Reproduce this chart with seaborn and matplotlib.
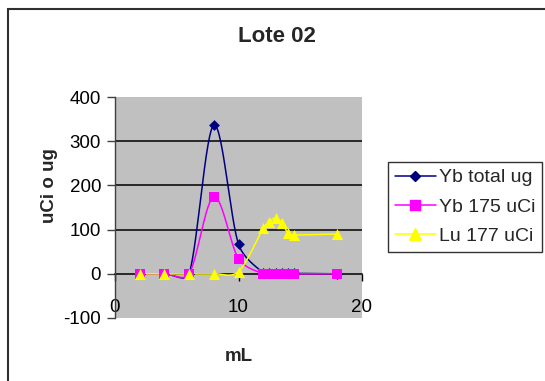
import numpy as np
import pandas as pd
import matplotlib
matplotlib.use("Agg")
import matplotlib.pyplot as plt
import seaborn as sns

# ---- data ----
ml = [2, 4, 6, 8, 10, 12, 12.5, 13, 13.5, 14, 14.5, 18]
yb_total = [0, 0, 0, 336, 67, 2, 1, 1, 1, 1, 1, 0]
yb_175 = [0, 0, 0, 174, 34, 0, 0, 0, 0, 0, 0, 0]
lu_177 = [0, 0, 0, 0, 5, 103, 118, 126, 116, 92, 88, 90]
series_names = ["Yb total ug", "Yb 175 uCi", "Lu 177 uCi"]
series_vals = [yb_total, yb_175, lu_177]
colors = ["#000080", "#FF00FF", "#FFFF00"]
markers = ["D", "s", "^"]
msizes = [5.5, 7, 8]
yticks = [-100, 0, 100, 200, 300, 400]
xticks = [0, 10, 20]

df = pd.DataFrame({"mL": ml * 3,
                   "val": yb_total + yb_175 + lu_177,
                   "serie": sum([[n] * len(ml) for n in series_names], [])})

# pixel scale of the plot area (for limiting the smoothing overshoot)
PX_X = 247 / 20.0
PX_Y = 221 / 500.0


def excel_smooth(x, y, n=30, k=0.4):
    """Excel-like smoothed line: Bezier with Catmull-Rom tangents, limited overshoot."""
    P = np.column_stack([np.asarray(x, float) * PX_X, np.asarray(y, float) * PX_Y])
    Pe = np.vstack([P[0], P, P[-1]])
    out = []
    t = np.linspace(0, 1, n)[:, None]
    for i in range(len(P) - 1):
        p0 = Pe[i + 1]
        p3 = Pe[i + 2]
        seglen = np.linalg.norm(p3 - p0)
        d1 = (Pe[i + 2] - Pe[i]) / 6.0
        d2 = (Pe[i + 3] - Pe[i + 1]) / 6.0
        for d in (d1, d2):
            L = np.linalg.norm(d)
            if L > k * seglen and L > 0:
                d *= k * seglen / L
        c1 = p0 + d1
        c2 = p3 - d2
        seg = ((1 - t) ** 3) * p0 + 3 * ((1 - t) ** 2) * t * c1 + 3 * (1 - t) * t ** 2 * c2 + t ** 3 * p3
        out.append(seg if i == 0 else seg[1:])
    s = np.vstack(out)
    return s[:, 0] / PX_X, s[:, 1] / PX_Y


sns.set_theme(style="white")
plt.rcParams["font.family"] = ["Liberation Sans", "DejaVu Sans"]
plt.rcParams["axes.unicode_minus"] = False

fig = plt.figure(figsize=(5.45, 3.81), dpi=100)
ax = fig.add_axes([115 / 545, 1 - 318 / 381, 247 / 545, 221 / 381])
ax.set_facecolor("#C0C0C0")

for name, vals, c, m, ms in zip(series_names, series_vals, colors, markers, msizes):
    sx, sy = excel_smooth(ml, vals)
    ax.plot(sx, sy, color=c, lw=1.1, zorder=3)
    sub = df[df["serie"] == name]
    sns.scatterplot(data=sub, x="mL", y="val", ax=ax, color=c, marker=m,
                    s=ms ** 2, edgecolor=c, linewidth=0, zorder=4, legend=False)
    ax.plot([], [], color=c, lw=1.1, marker=m, ms=ms, label=name)

ax.set_xlim(0, 20)
ax.set_ylim(-100, 400)
ax.set_xticks(xticks)
ax.set_yticks(yticks)

# gridlines (only interior)
ax.yaxis.grid(True, color="black", lw=1.1)
ax.xaxis.grid(False)
gl = ax.get_ygridlines()
gl[0].set_visible(False)
gl[-1].set_visible(False)
gl[1].set_visible(False)

for s in ["top", "right"]:
    ax.spines[s].set_visible(False)
ax.spines["left"].set_color("#404040")
ax.spines["left"].set_linewidth(1.0)
ax.spines["bottom"].set_position(("data", 0))
ax.spines["bottom"].set_color("black")
ax.spines["bottom"].set_linewidth(1.1)
ax.spines["bottom"].set_zorder(2)

ax.tick_params(axis="y", direction="out", length=6, width=1, color="#404040",
               labelsize=13.5, pad=4, left=True, labelcolor="black")
ax.tick_params(axis="x", direction="out", length=5, width=1, color="black",
               labelsize=13.5, pad=13, bottom=True, labelcolor="black")

ax.set_xlabel("mL", fontsize=13.5, fontweight="bold")
ax.xaxis.set_label_coords(0.5, -0.135)
ax.set_ylabel("uCi o ug", fontsize=13.5, fontweight="bold")
ax.yaxis.set_label_coords(-0.23, 0.6)

fig.text(277 / 545, 1 - 37 / 381, "Lote 02", fontsize=16, fontweight="bold",
         ha="center", va="center")

leg = fig.legend(loc="upper left", bbox_to_anchor=(388 / 545, 1 - 162 / 381),
                 frameon=True, fontsize=14, handlelength=2.1, handletextpad=0.15,
                 borderpad=0.35, labelspacing=0.6, borderaxespad=0, fancybox=False)
leg.get_frame().set_edgecolor("black")
leg.get_frame().set_linewidth(1.0)

# chart-area border
fig.add_artist(plt.Rectangle((8 / 545, -0.05), 1.2, 1 - 9 / 381 + 0.05,
                             transform=fig.transFigure, fill=False,
                             edgecolor="#303030", lw=1.5, clip_on=False))

fig.savefig("out.png", dpi=100)
